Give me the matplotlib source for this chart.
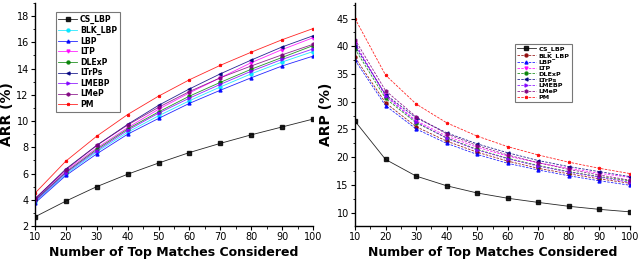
import matplotlib
matplotlib.use("Agg")
import matplotlib.pyplot as plt
from matplotlib.ticker import MultipleLocator

x = [10, 20, 30, 40, 50, 60, 70, 80, 90, 100]
names = ["CS_LBP", "BLK_LBP", "LBP", "LTP", "DLExP", "LTrPs", "LMEBP", "LMeP", "PM"]

arr_cs_lbp = [2.7, 3.9, 5.0, 5.95, 6.8, 7.6, 8.3, 8.95, 9.55, 10.15]
arr_blk_lbp = [3.85, 5.95, 7.65, 9.15, 10.4, 11.55, 12.6, 13.6, 14.5, 15.3]
arr_lbp = [3.75, 5.85, 7.5, 9.0, 10.2, 11.35, 12.35, 13.3, 14.2, 14.95]
arr_ltp = [4.0, 6.2, 7.95, 9.5, 10.9, 12.15, 13.3, 14.45, 15.45, 16.35]
arr_dlexp = [3.95, 6.1, 7.85, 9.4, 10.7, 11.9, 12.95, 13.95, 14.85, 15.75]
arr_ltrps = [4.05, 6.35, 8.15, 9.75, 11.2, 12.45, 13.6, 14.65, 15.65, 16.5]
arr_lmebp = [3.9, 6.05, 7.75, 9.3, 10.6, 11.75, 12.8, 13.8, 14.7, 15.5]
arr_lmep = [4.1, 6.3, 8.15, 9.7, 11.05, 12.25, 13.3, 14.2, 15.05, 15.85]
arr_pm = [4.5, 6.95, 8.85, 10.5, 11.9, 13.15, 14.25, 15.25, 16.2, 17.05]

arp_cs_lbp = [26.5, 19.6, 16.6, 14.85, 13.55, 12.6, 11.85, 11.15, 10.6, 10.15]
arp_blk_lbp = [38.0, 29.8, 25.5, 22.9, 20.9, 19.3, 18.0, 17.0, 16.1, 15.3]
arp_lbp = [37.5, 29.3, 25.1, 22.5, 20.5, 18.9, 17.7, 16.65, 15.75, 14.95]
arp_ltp = [40.5, 31.2, 26.6, 23.8, 21.8, 20.2, 19.0, 18.0, 17.1, 16.35]
arp_dlexp = [39.5, 30.6, 26.2, 23.5, 21.4, 19.8, 18.5, 17.4, 16.5, 15.75]
arp_ltrps = [40.0, 31.3, 27.1, 24.4, 22.4, 20.8, 19.4, 18.3, 17.4, 16.5]
arp_lmebp = [40.5, 31.0, 26.4, 23.4, 21.3, 19.7, 18.4, 17.3, 16.4, 15.5]
arp_lmep = [41.2, 32.0, 27.3, 24.2, 22.1, 20.4, 19.0, 17.8, 16.8, 15.85]
arp_pm = [45.0, 34.8, 29.6, 26.2, 23.8, 21.9, 20.4, 19.1, 18.0, 17.05]

arr = [arr_cs_lbp, arr_blk_lbp, arr_lbp, arr_ltp, arr_dlexp, arr_ltrps, arr_lmebp, arr_lmep, arr_pm]
arp = [arp_cs_lbp, arp_blk_lbp, arp_lbp, arp_ltp, arp_dlexp, arp_ltrps, arp_lmebp, arp_lmep, arp_pm]

colors_left = ["#000000", "#00e5ff", "#0000ff", "#ff00ff", "#008000", "#000080", "#8000ff", "#800080", "#ff0000"]
colors_right = ["#000000", "#8b0000", "#0000ff", "#ff00ff", "#008000", "#000080", "#8000ff", "#800080", "#ff0000"]
markers = ["s", "o", "^", "v", "o", "<", ">", "h", "*"]

fig = plt.figure(figsize=(6.4, 2.61), dpi=100)
ax1 = fig.add_axes([35/640, 1-226/261, 278/640, 223/261])
ax2 = fig.add_axes([355/640, 1-226/261, 275/640, 223/261])

def style(ax):
    for s in ["top", "right"]:
        ax.spines[s].set_visible(False)
    ax.spines["left"].set_linewidth(1.0)
    ax.spines["bottom"].set_linewidth(1.0)
    ax.set_xlim(10, 100)
    ax.xaxis.set_major_locator(MultipleLocator(10))
    ax.xaxis.set_minor_locator(MultipleLocator(5))
    ax.tick_params(which="major", direction="out", length=3, width=0.8, labelsize=7, pad=1.5)
    ax.tick_params(which="minor", direction="out", length=1.8, width=0.6)
    ax.set_xlabel("Number of Top Matches Considered", fontsize=9, fontweight="bold", labelpad=3)

for i, n in enumerate(names):
    ax1.plot(x, arr[i], color=colors_left[i], marker=markers[i], markersize=2.2,
             linewidth=0.6, alpha=0.85, label=n)
    ax2.plot(x, arp[i], color=colors_right[i], marker=markers[i], markersize=2.2,
             linewidth=0.6, alpha=0.85, linestyle=(0, (3, 1.5)) if i != 0 else "-", label=n)

style(ax1)
style(ax2)
ax1.set_ylim(2, 19)
ax1.yaxis.set_major_locator(MultipleLocator(2))
ax1.yaxis.set_minor_locator(MultipleLocator(1))
ax1.set_ylabel("ARR (%)", fontsize=10, fontweight="bold", labelpad=2)
ax2.set_ylim(7.6, 47.8)
ax2.yaxis.set_major_locator(MultipleLocator(5))
ax2.yaxis.set_minor_locator(MultipleLocator(2.5))
ax2.set_ylabel("ARP (%)", fontsize=10, fontweight="bold", labelpad=2)

l1 = ax1.legend(loc="upper left", bbox_to_anchor=(0.06, 0.975), frameon=True, fancybox=False,
                edgecolor="#555555", handlelength=2.4, handletextpad=0.4, labelspacing=0.2,
                borderpad=0.35, prop={"weight": "bold", "size": 5.6})
l2 = ax2.legend(loc="upper left", bbox_to_anchor=(0.57, 0.83), frameon=True, fancybox=False,
                edgecolor="#555555", handlelength=3.0, handletextpad=0.4, labelspacing=0.06,
                borderpad=0.3, prop={"weight": "bold", "size": 4.6})
for l in (l1, l2):
    l.get_frame().set_linewidth(0.8)

fig.savefig("out.png", dpi=100)
